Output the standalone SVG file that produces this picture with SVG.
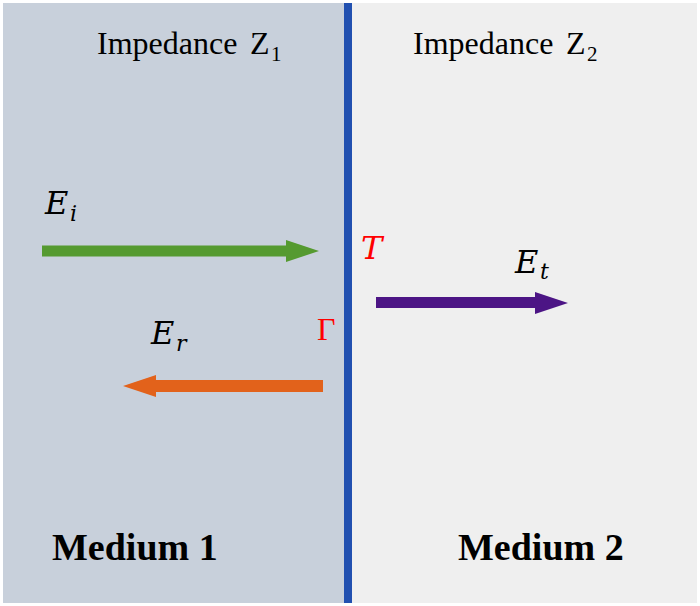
<svg xmlns="http://www.w3.org/2000/svg" width="700" height="606" viewBox="0 0 700 606">
<style>
.imp{font-family:"Liberation Serif",serif;font-size:32px;fill:#000}
.sub{font-size:21px}
.med{font-family:"Liberation Serif",serif;font-size:38px;font-weight:bold;fill:#000}
.math{font-family:"DejaVu Serif",serif;font-style:italic;font-size:32px;fill:#000}
.msub{font-size:22px}
.red{fill:#ff0000}
</style>
<rect x="0" y="0" width="700" height="606" fill="#ffffff"/>
<g id="medium1">
<rect x="3" y="3" width="342" height="600" fill="#c8d0db"/>
<text class="imp" x="97" y="54">Impedance <tspan x="250">Z</tspan><tspan class="sub" x="271" dy="7">1</tspan></text>
<text class="med" x="52" y="560">Medium 1</text>
</g>
<g id="medium2">
<rect x="352" y="3" width="345" height="600" fill="#efefef"/>
<text class="imp" x="413" y="54">Impedance <tspan x="566">Z</tspan><tspan class="sub" x="587" dy="7">2</tspan></text>
<text class="med" x="458" y="560">Medium 2</text>
</g>
<g id="interface">
<rect x="344" y="3" width="8" height="600" fill="#2150b0"/>
<text class="math red" x="361" y="259" font-size="30">T</text>
<text x="317" y="340" font-family="Liberation Serif, serif" font-size="32" fill="#ff0000">Γ</text>
</g>
<g id="connectors">
<path id="Ei-arrow" d="M42 245.5 H286 V240 L319 251 L286 262 V256.5 H42 Z" fill="#559a30"/>
<path id="Er-arrow" d="M323 380 H156 V375 L123 386 L156 397 V392 H323 Z" fill="#e2621b"/>
<path id="Et-arrow" d="M376 297 H535 V292 L568 303 L535 314 V308 H376 Z" fill="#4c1585"/>
</g>
<g id="labels">
<text class="math" x="45" y="214">E<tspan class="msub" x="70" dy="7">i</tspan></text>
<text class="math" x="151" y="344">E<tspan class="msub" x="176" dy="7">r</tspan></text>
<text class="math" x="515" y="273">E<tspan class="msub" x="540" dy="6">t</tspan></text>
</g>
</svg>
